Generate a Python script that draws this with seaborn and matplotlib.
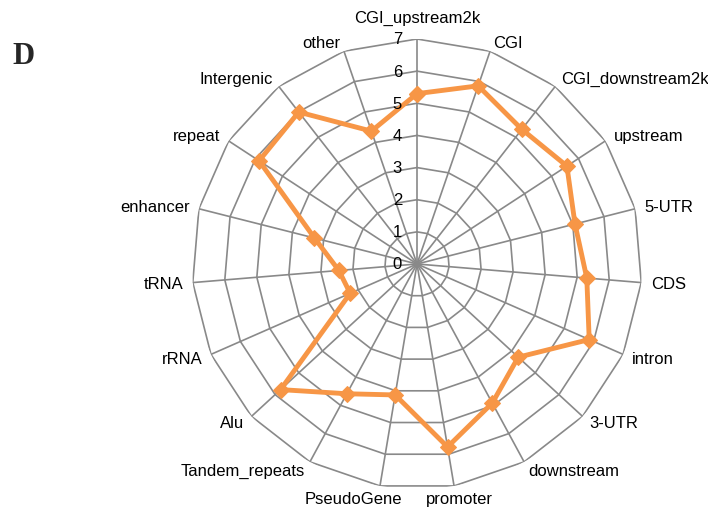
import numpy as np
import pandas as pd
import seaborn as sns
import matplotlib.pyplot as plt
from matplotlib.transforms import offset_copy

# categories clockwise from the top
categories = ['CGI_upstream2k', 'CGI', 'CGI_downstream2k', 'upstream', '5-UTR', 'CDS',
              'intron', '3-UTR', 'downstream', 'promoter', 'PseudoGene', 'Tandem_repeats',
              'Alu', 'rRNA', 'tRNA', 'enhancer', 'repeat', 'Intergenic', 'other']
values = [5.3, 5.86, 5.31, 5.57, 5.07, 5.3,
          5.85, 4.28, 4.92, 5.77, 4.13, 4.59,
          5.77, 2.27, 2.44, 3.29, 5.87, 5.99, 4.37]
rings = [1, 2, 3, 4, 5, 6, 7]
tick_labels = ['0', '1', '2', '3', '4', '5', '6', '7']

sns.set_style('white')
plt.rcParams['font.family'] = ['Liberation Sans', 'DejaVu Sans']

n = len(categories)
angles = np.linspace(0, 2 * np.pi, n, endpoint=False)
df = pd.DataFrame({'angle': np.append(angles, 2 * np.pi), 'value': values + values[:1]})

fig = plt.figure(figsize=(7.08, 5.10), dpi=100)
ax = fig.add_axes([0.2712, 0.0392, 0.6356, 0.8824], projection='polar')
ax.set_theta_zero_location('N')
ax.set_theta_direction(-1)
ax.set_ylim(0, 7)
ax.set_xticks([])
ax.set_yticks([])
ax.grid(False)
ax.spines['polar'].set_visible(False)

grid_col = '#898989'
# polygon grid
closed = np.append(angles, angles[0])
for r in rings:
    ax.plot(closed, [r] * (n + 1), color=grid_col, lw=1.2, zorder=1)
for a in angles:
    ax.plot([a, a], [0, 7], color=grid_col, lw=1.2, zorder=1)

sns.lineplot(data=df, x='angle', y='value', sort=False, ax=ax, color='#F79646',
             lw=3.5, marker='D', markersize=8, markeredgecolor='#F79646', zorder=3)
ax.set_xlabel('')
ax.set_ylabel('')

# radial tick labels
trans = offset_copy(ax.transData, fig=fig, x=-15, y=0, units='dots')
for i, t in enumerate(tick_labels):
    ax.text(0, i, t, transform=trans, ha='right', va='center', fontsize=12, color='black')

# category labels
for a, lab in zip(angles, categories):
    s, c = np.sin(a), np.cos(a)
    ha = 'center' if abs(s) < 0.1 else ('left' if s > 0 else 'right')
    va = 'center'
    r = 7.3
    tr = ax.transData
    if abs(s) < 0.1:
        va = 'bottom' if c > 0 else 'top'
        r = 7.45
    elif abs(s) < 0.2:
        # the two bottom labels sit close together
        va = 'top'
        tr = offset_copy(ax.transData, fig=fig, x=-30 if s > 0 else 24, y=4, units='dots')
    ax.text(a, r, lab, ha=ha, va=va, fontsize=12, color='black', transform=tr)

fig.text(0.017, 0.89, 'D', fontsize=22, fontweight='bold', family='Liberation Serif',
         ha='left', va='center')

fig.savefig('out.png', dpi=100)
